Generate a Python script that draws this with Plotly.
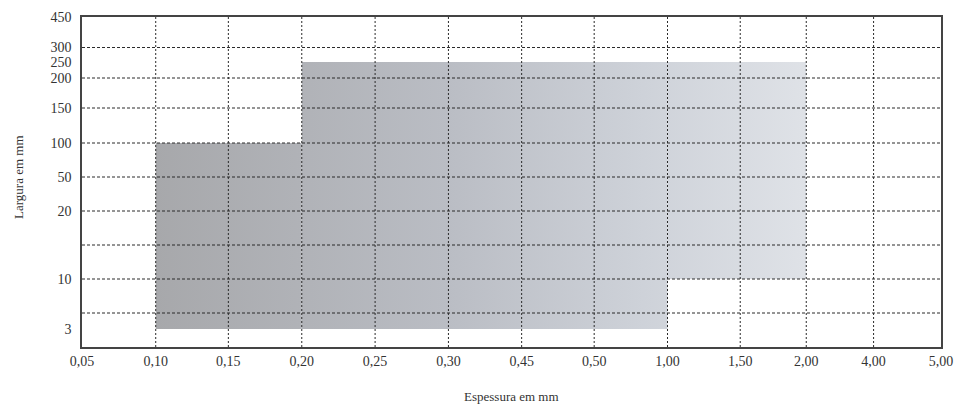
import plotly.graph_objects as go

# ---- data ----
thickness_labels = ["0,05", "0,10", "0,15", "0,20", "0,25", "0,30", "0,45",
                    "0,50", "1,00", "1,50", "2,00", "4,00", "5,00"]
width_labels = ["3", "10", "20", "50", "100", "150", "200", "250", "300", "450"]

# available ranges: (thickness from, thickness to, width from, width to)
region_thick_from = ["0,10", "0,20", "1,00"]
region_thick_to = ["0,20", "1,00", "2,00"]
region_width_from = ["3", "3", "10"]
region_width_to = ["100", "250", "250"]

# ---- axis placement (chart's non-uniform scales) ----
thickness_pos = [0, 73.7, 146.3, 219.7, 293, 366.3, 439.5, 512, 585.3, 658, 724, 791.3, 858.7]
width_pos = [18, 68, 136, 170, 204, 239, 269, 285, 299.5, 330]
width_grid_pos = [34, 68, 102, 136, 170, 204, 239, 269, 299.5]

xmap = dict(zip(thickness_labels, thickness_pos))
ymap = dict(zip(width_labels, width_pos))

FONT = "Liberation Serif"
fig = go.Figure()

for t0, t1, w0, w1 in zip(region_thick_from, region_thick_to, region_width_from, region_width_to):
    x0, x1, y0, y1 = xmap[t0], xmap[t1], ymap[w0], ymap[w1]
    fig.add_trace(go.Scatter(
        x=[x0, x1, x1, x0, x0], y=[y0, y0, y1, y1, y0],
        mode="lines", line=dict(width=0), fill="toself",
        fillgradient=dict(type="horizontal",
                          colorscale=[[0, "#a7a8ab"], [0.45, "#babdc4"], [0.75, "#ced2d9"], [1, "#dfe2e7"]],
                          start=xmap["0,10"], stop=xmap["2,00"]),
        hoverinfo="skip", showlegend=False))

shapes = []
for xp in thickness_pos[1:-1]:
    shapes.append(dict(type="line", xref="x", yref="paper", x0=xp, x1=xp, y0=0, y1=1,
                       line=dict(color="#2a2a2a", width=1, dash="2px,2px"), layer="above"))
for yp in width_grid_pos:
    shapes.append(dict(type="line", xref="paper", yref="y", x0=0, x1=1, y0=yp, y1=yp,
                       line=dict(color="#2a2a2a", width=1, dash="3px,2px"), layer="above"))

fig.update_layout(
    width=956, height=406,
    margin=dict(l=82, r=15, t=17, b=59),
    paper_bgcolor="white", plot_bgcolor="white",
    font=dict(family=FONT, size=14, color="#222222"),
    shapes=shapes,
    xaxis=dict(range=[0, thickness_pos[-1]], tickmode="array", tickvals=thickness_pos,
               ticktext=thickness_labels, showgrid=False, zeroline=False, automargin=False,
               showline=True, mirror=True, linecolor="#444444", linewidth=1.5,
               ticks="", tickfont=dict(family=FONT, size=14, color="#333333")),
    yaxis=dict(range=[0, 330], tickmode="array", tickvals=width_pos,
               ticktext=width_labels, showgrid=False, zeroline=False, automargin=False,
               showline=True, mirror=True, linecolor="#444444", linewidth=1.5,
               ticks="", ticklabelstandoff=6, tickfont=dict(family=FONT, size=14, color="#333333")),
    annotations=[
        dict(text="Espessura em mm", xref="paper", yref="paper", x=0.5, y=0,
             xanchor="center", yanchor="middle",
             yshift=-49, showarrow=False, font=dict(family=FONT, size=13, color="#333333")),
        dict(text="Largura em mm", xref="paper", yref="paper", x=0, y=0.5,
             xanchor="center", yanchor="middle",
             xshift=-64, yshift=5, textangle=-90, showarrow=False,
             font=dict(family=FONT, size=13, color="#333333")),
    ],
)

fig.write_html("out.html", config={"displayModeBar": False},
               post_script="document.body.style.margin='0';document.body.style.padding='0';")
